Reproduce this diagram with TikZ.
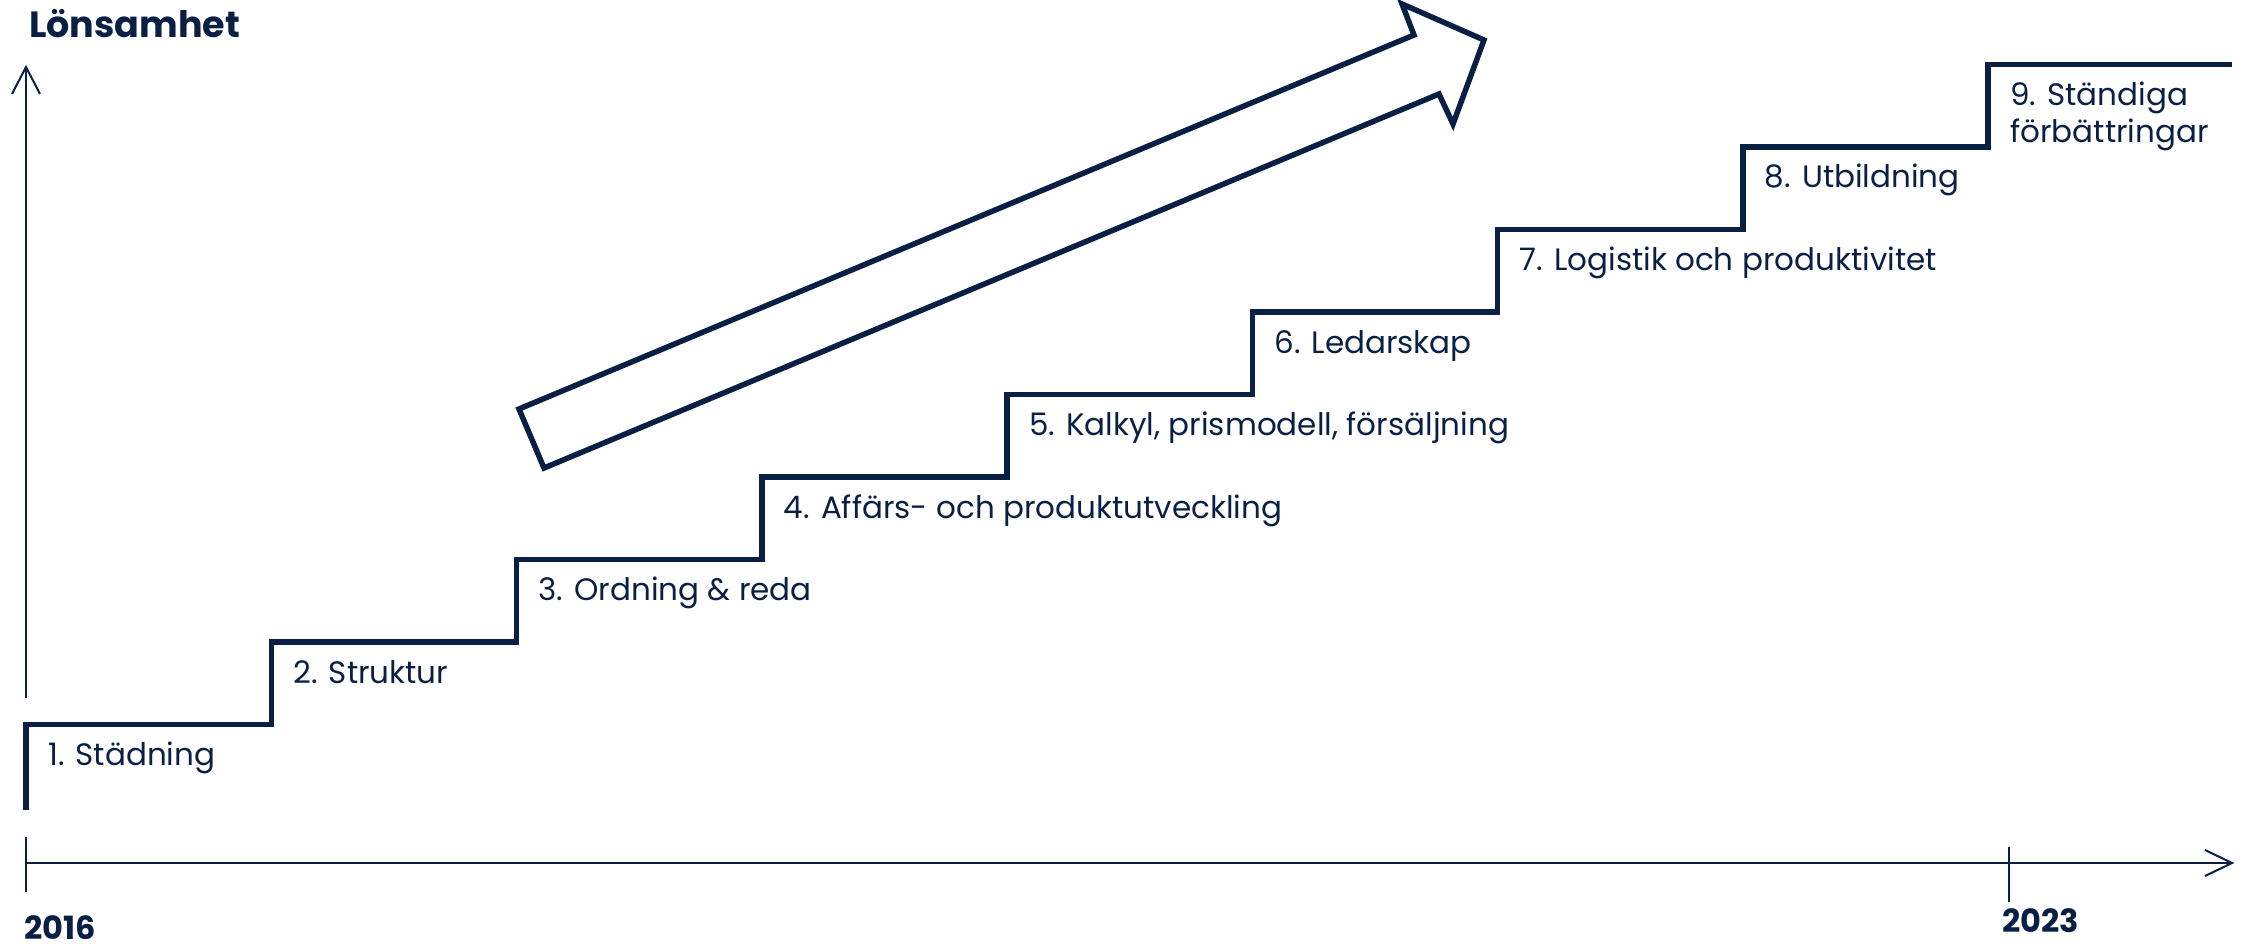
\documentclass[tikz,border=0pt]{standalone}
\usepackage{fontspec}
\setmainfont{Poppins}
\definecolor{navy}{RGB}{10,31,68}
\begin{document}
\begin{tikzpicture}[x=1pt,y=-1pt,
  stair/.style={draw=navy,line width=5.5pt,line join=miter,line cap=butt},
  axis/.style={draw=navy,line width=2pt},
  lbl/.style={anchor=base west,inner sep=0pt,text=navy,font=\fontsize{31}{37}\selectfont},
  yr/.style={anchor=base west,inner sep=0pt,text=navy,font=\fontsize{32}{36}\selectfont\bfseries},
  bigarrow/.style={draw=navy,line width=5.5pt,line join=miter,fill=white}]
\useasboundingbox (0,0) rectangle (2247,947);
% axes
\coordinate (yb) at (26,698);
\coordinate (yt) at (26,67);
\coordinate (xl) at (26,863);
\coordinate (xr) at (2232,863);
\draw[axis] (yb) -- (yt);
\draw[axis] (12,94) -- (yt) -- (40,94);
\draw[axis] (xl) -- (xr);
\draw[axis] (2205,850) -- (xr) -- (2205,876);
\draw[axis] (26,837) -- (26,892);
\draw[axis] (2009,847) -- (2009,902);
\node[yr] (y16) at (24,939) {2016};
\node[yr] (y23) at (2002,932) {2023};
\node[anchor=base west,inner sep=0pt,text=navy,font=\fontsize{36.5}{40}\selectfont\bfseries] (title) at (29,38) {Lönsamhet};
% staircase
\def\sx{245.25}
\def\sy{82.5}
\draw[stair] (26,810) -- (26,724.5)
  \foreach \i in {1,...,8} { -- ({26+\i*\sx},{724.5-(\i-1)*\sy}) -- ({26+\i*\sx},{724.5-\i*\sy}) }
  -- (2232,64.5);
% labels
\node[lbl] (l1) at (48,765.5) {1. Städning};
\node[lbl] (l2) at ({48+1*\sx},{765.5-1*\sy}) {2. Struktur};
\node[lbl] (l3) at ({48+2*\sx},{765.5-2*\sy}) {3. Ordning \& reda};
\node[lbl] (l4) at ({48+3*\sx},{765.5-3*\sy}) {4. Affärs- och produktutveckling};
\node[lbl] (l5) at ({48+4*\sx},{765.5-4*\sy}) {5. Kalkyl, prismodell, försäljning};
\node[lbl] (l6) at ({48+5*\sx},{765.5-5*\sy}) {6. Ledarskap};
\node[lbl] (l7) at ({48+6*\sx},{765.5-6*\sy}) {7. Logistik och produktivitet};
\node[lbl] (l8) at ({48+7*\sx},{765.5-7*\sy}) {8. Utbildning};
\node[lbl] (l9) at ({48+8*\sx},{765.5-8*\sy}) {\begin{tabular}[t]{@{}l@{}}9. Ständiga\\förbättringar\end{tabular}};
% big arrow
\draw[bigarrow] (519,409) -- (1414,35) -- (1402,4) -- (1484,40) -- (1453,124) -- (1439,94) -- (544,468) -- cycle;
\end{tikzpicture}
\end{document}
